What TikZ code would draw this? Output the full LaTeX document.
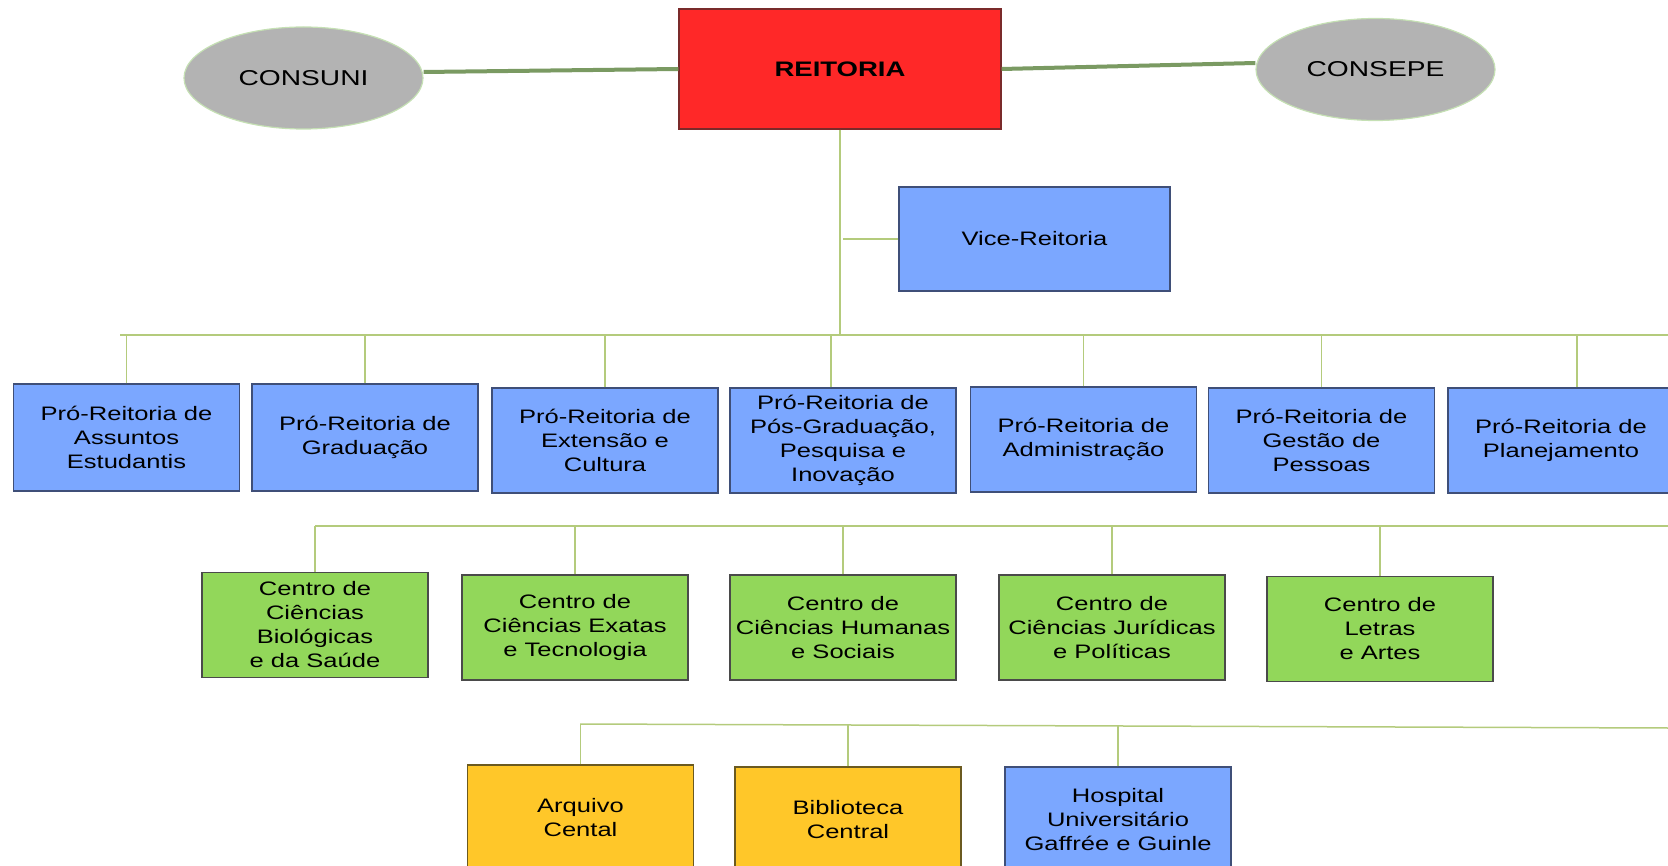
\documentclass[tikz,border=0pt]{standalone}
\usepackage{fontspec}
\setmainfont{Liberation Sans}[FakeStretch=1.31]
\usetikzlibrary{shapes.geometric}
\definecolor{redfill}{HTML}{FF2828}
\definecolor{redline}{HTML}{7A2A2A}
\definecolor{grayfill}{HTML}{B3B3B3}
\definecolor{grayline}{HTML}{C5E0B4}
\definecolor{thickline}{HTML}{7A9A62}
\definecolor{bluefill}{HTML}{7BA7FF}
\definecolor{blueline}{HTML}{3F4F78}
\definecolor{greenfill}{HTML}{92D75A}
\definecolor{greenline}{HTML}{4A4A4A}
\definecolor{yellowfill}{HTML}{FFC729}
\definecolor{yellowline}{HTML}{6B5A20}
\definecolor{thinline}{HTML}{B4CB7C}
\tikzset{
  council/.style={ellipse, fill=grayfill, draw=grayline, line width=1.2pt,
    minimum width=239pt, minimum height=102pt, inner sep=0pt,
    font=\fontsize{21.5}{24}\selectfont},
  rectorbox/.style={rectangle, fill=redfill, draw=redline, line width=1.2pt,
    minimum width=322pt, minimum height=120pt, inner sep=0pt,
    font=\fontsize{21}{24}\selectfont\bfseries},
  unitbox/.style={rectangle, line width=1.2pt, minimum width=226pt,
    minimum height=105pt, inner sep=0pt, align=center,
    font=\fontsize{19.5}{24}\selectfont},
  bluebox/.style={unitbox, fill=bluefill, draw=blueline},
  greenbox/.style={unitbox, fill=greenfill, draw=greenline},
  yellowbox/.style={unitbox, fill=yellowfill, draw=yellowline},
  thick link/.style={draw=thickline, line width=4pt},
  thin link/.style={draw=thinline, line width=1.5pt},
}
\begin{document}
\begin{tikzpicture}[x=1pt, y=-1pt]
\useasboundingbox (0,0) rectangle (1668,866);
\clip (0,0) rectangle (1668,866);

% top level
\node[council] (consuni) at (303.5,78) {CONSUNI};
\node[rectorbox] (reitoria) at (840,69) {REITORIA};
\node[council] (consepe) at (1375.5,69.5) {CONSEPE};
\node[bluebox, minimum width=271pt, minimum height=104pt] (vice) at (1034.5,239) {Vice-Reitoria};

% Pró-Reitorias
\node[bluebox, minimum height=107pt] (p1) at (126.5,437.5) {Pró-Reitoria de\\Assuntos\\Estudantis};
\node[bluebox, minimum height=107pt] (p2) at (365,437.5) {Pró-Reitoria de\\Graduação};
\node[bluebox] (p3) at (605,440.5) {Pró-Reitoria de\\Extensão e\\Cultura};
\node[bluebox] (p4) at (843,440.5) {Pró-Reitoria de\\Pós-Graduação,\\Pesquisa e\\Inovação};
\node[bluebox] (p5) at (1083.5,439.5) {Pró-Reitoria de\\Administração};
\node[bluebox] (p6) at (1321.5,440.5) {Pró-Reitoria de\\Gestão de\\Pessoas};
\node[bluebox] (p7) at (1561,440.5) {Pró-Reitoria de\\Planejamento};

% Centros
\node[greenbox] (c1) at (315,625) {Centro de\\Ciências\\Biológicas\\e da Saúde};
\node[greenbox] (c2) at (575,627.5) {Centro de\\Ciências Exatas\\e Tecnologia};
\node[greenbox] (c3) at (843,627.5) {Centro de\\Ciências Humanas\\e Sociais};
\node[greenbox] (c4) at (1112,627.5) {Centro de\\Ciências Jurídicas\\e Políticas};
\node[greenbox] (c5) at (1380,629) {Centro de\\Letras\\e Artes};

% Órgãos suplementares
\node[yellowbox] (a1) at (580.5,817.5) {Arquivo\\Cental};
\node[yellowbox] (a2) at (848,819.5) {Biblioteca\\Central};
\node[bluebox] (h) at (1118,819.5) {Hospital\\Universitário\\Gaffrée e Guinle};

% bus coordinates
\coordinate (b1L) at (120,335);
\coordinate (b1R) at (1668,335);
\coordinate (b2L) at (315,526);
\coordinate (b2R) at (1668,526);
\coordinate (b3L) at (580,724);
\coordinate (b3R) at (1668,728);

% thick links
\draw[thick link] ([yshift=6pt]consuni.east) -- (reitoria.west);
\draw[thick link] (reitoria.east) -- ([yshift=6.5pt]consepe.west);

% thin links
\draw[thin link] (reitoria.south) -- (reitoria.south |- b1L);
\draw[thin link] (vice.west) -- ([xshift=3pt]vice.west -| reitoria.south);
\draw[thin link] (b1L) -- (b1R);
\draw[thin link] (p1.north) -- (p1.north |- b1L);
\draw[thin link] (p2.north) -- (p2.north |- b1L);
\draw[thin link] (p3.north) -- (p3.north |- b1L);
\draw[thin link] ([xshift=-12pt]p4.north) -- ([xshift=-12pt]p4.north |- b1L);
\draw[thin link] (p5.north) -- (p5.north |- b1L);
\draw[thin link] (p6.north) -- (p6.north |- b1L);
\draw[thin link] ([xshift=16pt]p7.north) -- ([xshift=16pt]p7.north |- b1L);

\draw[thin link] (b2L) -- (b2R);
\draw[thin link] (c1.north) -- (c1.north |- b2L);
\draw[thin link] (c2.north) -- (c2.north |- b2L);
\draw[thin link] (c3.north) -- (c3.north |- b2L);
\draw[thin link] (c4.north) -- (c4.north |- b2L);
\draw[thin link] (c5.north) -- (c5.north |- b2L);

\draw[thin link] (b3L) -- (b3R);
\draw[thin link] (a1.north) -- (a1.north |- b3L);
\draw[thin link] (a2.north) -- ([yshift=-1pt]a2.north |- b3L);
\draw[thin link] (h.north) -- ([yshift=-2pt]h.north |- b3L);
\end{tikzpicture}
\end{document}
